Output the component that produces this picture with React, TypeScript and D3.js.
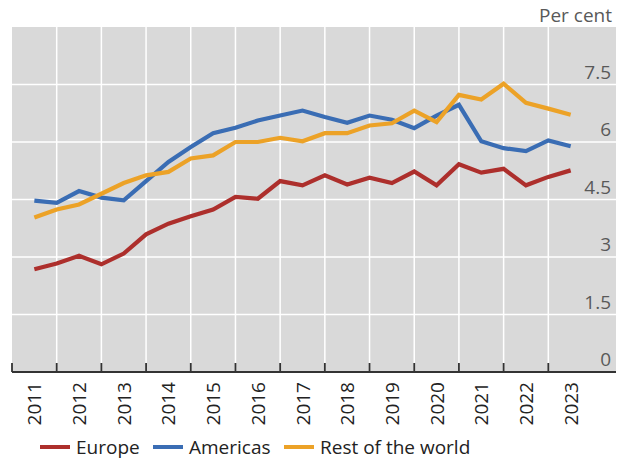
import React from "react";
import * as d3 from "d3";

const years = ["2011","2012","2013","2014","2015","2016","2017","2018","2019","2020","2021","2022","2023"];
const yTicks = [0, 1.5, 3, 4.5, 6, 7.5];
const seriesNames = ["Europe", "Americas", "Rest of the world"];
const colors = ["#ad2f2c", "#3a6db4", "#eca227"];

const europe = [2.68,2.83,3.03,2.81,3.09,3.59,3.87,4.06,4.24,4.57,4.52,4.98,4.87,5.13,4.89,5.07,4.93,5.23,4.87,5.42,5.20,5.30,4.87,5.09,5.26];
const americas = [4.47,4.41,4.72,4.55,4.48,4.98,5.48,5.87,6.23,6.37,6.56,6.69,6.82,6.65,6.50,6.69,6.58,6.36,6.69,6.97,6.02,5.84,5.76,6.04,5.89];
const rest = [4.03,4.24,4.37,4.65,4.93,5.13,5.22,5.57,5.65,6.00,6.00,6.11,6.02,6.23,6.23,6.43,6.49,6.82,6.52,7.23,7.11,7.52,7.02,6.87,6.71];

const W = 626, H = 464;
const left = 12, right = 616, top = 27, bottom = 372;
const font = "'Open Sans', sans-serif";

export default function App() {
  const x = d3.scaleLinear().domain([0, 13]).range([left, 593]);
  const y = d3.scaleLinear().domain([0, 9]).range([bottom, top]);
  const data = [europe, americas, rest];
  const line = d3.line<number>().x((_, i) => x(0.5 + i * 0.5)).y(d => y(d));
  const legendX = [40, 153, 284];

  return (
    <svg width={W} height={H} style={{ position: "absolute", left: 0, top: 0 }} fontFamily={font}>
      <rect x={left} y={top} width={right - left} height={bottom - top} fill="#d9d9d9" />
      {yTicks.filter(t => t > 0).map(t => (
        <line key={"h" + t} x1={left} x2={right} y1={y(t)} y2={y(t)} stroke="#fff" strokeWidth={1.5} />
      ))}
      {years.slice(1).map((_, i) => (
        <line key={"v" + i} x1={x(i + 1)} x2={x(i + 1)} y1={top} y2={bottom} stroke="#fff" strokeWidth={1.5} />
      ))}
      {data.map((d, k) => (
        <path key={k} d={line(d) || ""} fill="none" stroke={colors[k]} strokeWidth={4.2} strokeLinejoin="miter" />
      ))}
      <line x1={left} x2={right} y1={bottom} y2={bottom} stroke="#333" strokeWidth={1.8} />
      {years.map((_, i) => (
        <line key={"t" + i} x1={x(i)} x2={x(i)} y1={bottom - 9} y2={bottom} stroke="#333" strokeWidth={1.8} />
      ))}
      {yTicks.map(t => (
        <text key={"yl" + t} x={611} y={y(t) - 6} textAnchor="end" fontSize={19} fill="#595959">{t}</text>
      ))}
      <text x={612} y={22} textAnchor="end" fontSize={19} fill="#595959">Per cent</text>
      {years.map((yr, i) => (
        <text key={yr} transform={`translate(${x(i + 0.5) + 7},${382}) rotate(-90)`} textAnchor="end" fontSize={19} fill="#222">{yr}</text>
      ))}
      {seriesNames.map((n, k) => (
        <g key={n}>
          <line x1={legendX[k]} x2={legendX[k] + 30} y1={447} y2={447} stroke={colors[k]} strokeWidth={4} />
          <text x={legendX[k] + 36} y={454} fontSize={19} fill="#222">{n}</text>
        </g>
      ))}
    </svg>
  );
}
